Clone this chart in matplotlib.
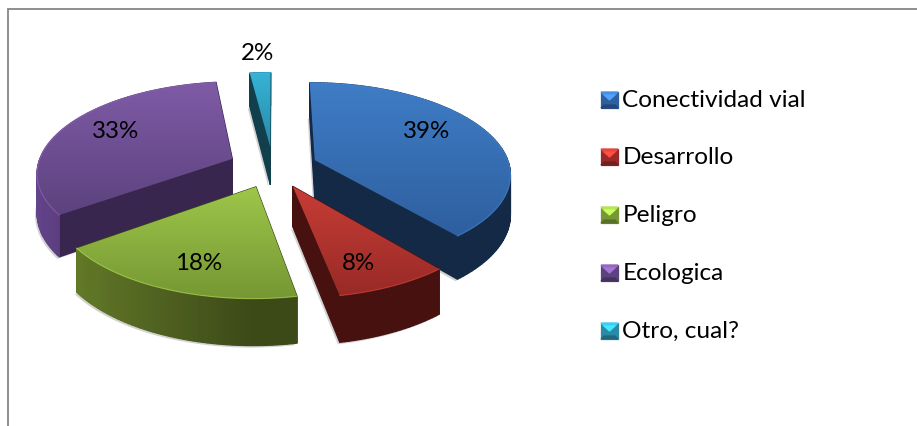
import numpy as np
import matplotlib
matplotlib.use('Agg')
import matplotlib.pyplot as plt
from matplotlib import colors
from matplotlib.patches import Polygon

categories = ['Conectividad vial', 'Desarrollo', 'Peligro', 'Ecologica', 'Otro, cual?']
values = [39, 8, 18, 33, 2]
pct_labels = ['39%', '8%', '18%', '33%', '2%']

top_light = ['#3f7dc6', '#c73d36', '#9dc64a', '#7f5ba6', '#35b3d6']
top_dark = ['#2e5f9f', '#982a27', '#769733', '#5c427e', '#2a8aa8']
side_dark = ['#142946', '#47110f', '#3c4a18', '#38264e', '#123f4c']

# pixel layout of the pie
cx, cy = 273, 167
rx, ry = 195, 90
explode = 0.23
persp = 0.14
depth = 39
label_xy = [(427, 132), (358, 263), (199, 263), (116, 132), (258, 53)]
legend_y = [100, 157, 215, 273, 331]
draw_order = [4, 3, 0, 2, 1]

plt.rcParams['font.family'] = ['Lato', 'DejaVu Sans']

fig = plt.figure(figsize=(9.17, 4.26), dpi=100)
ax = fig.add_axes([0, 0, 1, 1])
ax.set_xlim(0, 917)
ax.set_ylim(426, 0)
ax.axis('off')


def project(x, y, z=0):
    p = 1 / (1 + persp * y)
    return cx + rx * x * p, cy - ry * y * p + depth * p * z


def scale(col, f):
    rgb = np.array(colors.to_rgb(col)) * f
    return tuple(np.clip(rgb, 0, 1))


def quad(pts, col, z):
    ax.add_patch(Polygon(pts, closed=True, fc=col, ec=col, lw=0.9, zorder=z))


def gradient_fill(pts, c1, c2, z):
    # vertical gradient clipped on the wedge outline
    pts = np.array(pts)
    cmap = colors.LinearSegmentedColormap.from_list('g', [c1, c2])
    grad = np.linspace(0, 1, 128).reshape(-1, 1)
    ext = (pts[:, 0].min(), pts[:, 0].max(), pts[:, 1].max(), pts[:, 1].min())
    im = ax.imshow(grad, cmap=cmap, extent=ext, aspect='auto', origin='upper', zorder=z)
    clip = Polygon(pts, closed=True, transform=ax.transData)
    im.set_clip_path(clip)


edges = np.cumsum([0] + values) / sum(values) * 2 * np.pi
z = 2
for i in draw_order:
    a0, a1 = edges[i], edges[i + 1]
    mid = (a0 + a1) / 2
    ox, oy = explode * np.sin(mid), explode * np.cos(mid)
    th = np.linspace(a0, a1, max(6, int(values[i] * 3)))
    wx = ox + np.sin(th)
    wy = oy + np.cos(th)

    top = [project(ox, oy)] + [project(a, b) for a, b in zip(wx, wy)]
    bot = [project(ox, oy, 1)] + [project(a, b, 1) for a, b in zip(wx, wy)]

    # soft shadow under the slice
    shadow = [(a - 2, b + 2) for a, b in bot]
    ax.add_patch(Polygon(shadow, closed=True, fc='#808080', ec='none', alpha=0.35, zorder=z))
    z += 1

    faces = []
    faces.append(((oy + wy[0]) / 2, [top[0], top[1], bot[1], bot[0]], side_dark[i]))
    faces.append(((oy + wy[-1]) / 2, [top[0], top[-1], bot[-1], bot[0]], side_dark[i]))
    for k in range(1, len(top) - 1):
        tm = (th[k - 1] + th[k]) / 2
        f = 1 + 0.8 * max(0, -np.sin(tm))
        faces.append(((wy[k - 1] + wy[k]) / 2, [top[k], top[k + 1], bot[k + 1], bot[k]], scale(side_dark[i], f)))
    for _, pts, col in sorted(faces, key=lambda q: -q[0]):
        quad(pts, col, z)
        z += 1

    gradient_fill(top, top_light[i], top_dark[i], z)
    z += 1
    # light rim along the curved edge
    ax.plot([p[0] for p in top[1:]], [p[1] for p in top[1:]], color=scale(top_light[i], 1.1),
            lw=0.8, alpha=0.7, zorder=z)
    z += 1

ax.set_xlim(0, 917)
ax.set_ylim(426, 0)

for lab, (x, y) in zip(pct_labels, label_xy):
    ax.text(x, y, lab, ha='center', va='center', fontsize=17.4, color='black', zorder=z + 1)

# legend keys with a small bevel
for i, name in enumerate(categories):
    y = legend_y[i]
    x0, x1, y0, y1 = 601, 618, y - 8, y + 8
    quad([(x0, y0), (x1, y0), (x1, y1), (x0, y1)], top_dark[i], z)
    quad([(x0, y0), (x1, y0), (x1 - 3, y0 + 3), (x0 + 3, y0 + 3)], scale(top_light[i], 1.15), z + 1)
    quad([(x0 + 3, y0 + 3), (x1 - 3, y0 + 3), ((x0 + x1) / 2, y0 + 8)], scale(top_light[i], 1.3), z + 1)
    quad([(x0, y1), (x1, y1), (x1 - 3, y1 - 3), (x0 + 3, y1 - 3)], scale(top_dark[i], 0.75), z + 1)
    ax.text(622.5, y + 0.5, name, ha='left', va='center', fontsize=17.6, color='black', zorder=z + 1)

# chart frame, only top and left are inside the crop
ax.plot([8, 8, 917], [426, 9, 9], color='#868686', lw=1.3, zorder=z + 2, solid_joinstyle='miter')

fig.savefig('out.png', dpi=100)
